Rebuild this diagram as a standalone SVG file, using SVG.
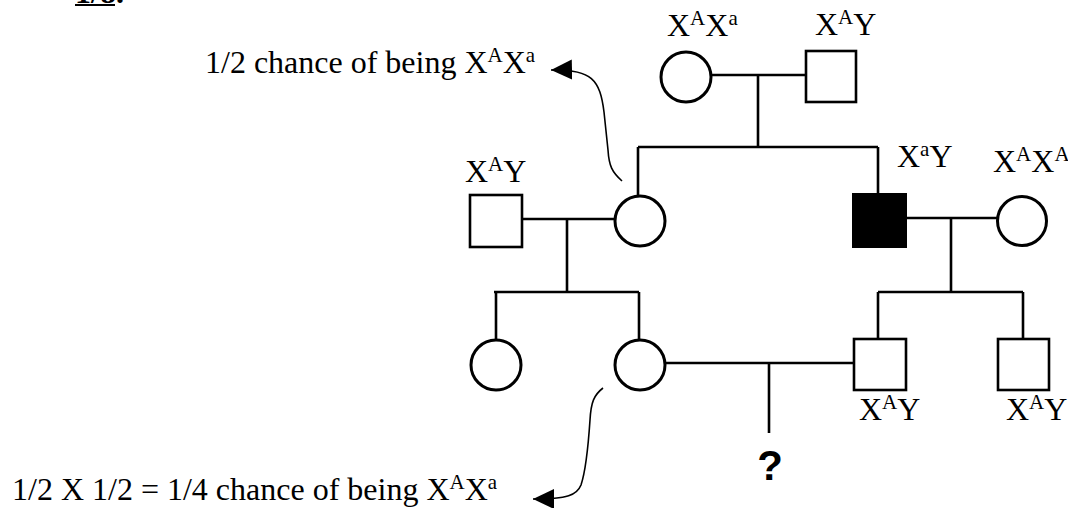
<svg xmlns="http://www.w3.org/2000/svg" width="1068" height="508" viewBox="0 0 1068 508">
<style>
.t{font-family:"Liberation Serif","Times New Roman",serif;font-size:32px;fill:#000}
.s{font-size:21px}
.ln{stroke:#000;stroke-width:2.6;fill:none}
.f{fill:#fff;stroke:#000;stroke-width:3}
.m{fill:#fff;stroke:#000;stroke-width:2.6}
.a{stroke:#000;stroke-width:1.6;fill:none}
</style>
<defs>
<marker id="ah" markerUnits="userSpaceOnUse" markerWidth="22" markerHeight="20" viewBox="0 0 22 20" refX="21" refY="10" orient="auto">
<path d="M0,0 L21,10 L0,20 Z" fill="#000"/>
</marker>
</defs>
<rect width="1068" height="508" fill="#fff"/>
<g id="heading">
<text class="t" x="75" y="3" font-weight="bold">1/8.</text>
<rect x="75" y="4" width="40" height="2" fill="#000"/>
</g>
<g id="connectors">
<path class="ln" d="M711,75 H806"/>
<path class="ln" d="M758,75 V147"/>
<path class="ln" d="M638,147 H878"/>
<path class="ln" d="M638,147 V196"/>
<path class="ln" d="M878,147 V194"/>
<path class="ln" d="M518,219 H615"/>
<path class="ln" d="M567,219 V292"/>
<path class="ln" d="M494,292 H639"/>
<path class="ln" d="M496,292 V340"/>
<path class="ln" d="M639,292 V340"/>
<path class="ln" d="M906,218 H998"/>
<path class="ln" d="M951,218 V292"/>
<path class="ln" d="M878,292 H1023"/>
<path class="ln" d="M878,292 V339"/>
<path class="ln" d="M1023,292 V339"/>
<path class="ln" d="M666,363 H854"/>
<path class="ln" d="M769,363 V433"/>
<path class="a" marker-end="url(#ah)" d="M622,181 C612,172 609,166 608,150 L604,112 C600,80 592,69 551,70"/>
<path class="a" marker-end="url(#ah)" d="M603,388 C594,395 591,402 590,420 C588,450 586,470 581,485 C577,495 568,499 533,499"/>
</g>
<g id="gm">
<circle class="f" cx="686" cy="77" r="25"/>
<text class="t" x="667" y="36">X<tspan class="s" dy="-11">A</tspan><tspan dy="11">X</tspan><tspan class="s" dy="-11">a</tspan></text>
</g>
<g id="gf">
<rect class="m" x="806" y="51" width="50" height="51"/>
<text class="t" x="815" y="35">X<tspan class="s" dy="-11">A</tspan><tspan dy="11">Y</tspan></text>
</g>
<g id="father">
<rect class="m" x="470" y="195" width="52" height="52"/>
<text class="t" x="465" y="182">X<tspan class="s" dy="-11">A</tspan><tspan dy="11">Y</tspan></text>
</g>
<g id="mother">
<circle class="f" cx="640" cy="221" r="25"/>
</g>
<g id="uncle">
<rect x="853" y="194" width="53" height="53" fill="#000" stroke="#000" stroke-width="2"/>
<text class="t" x="897" y="167">X<tspan class="s" dy="-11">a</tspan><tspan dy="11">Y</tspan></text>
</g>
<g id="aunt">
<circle class="f" cx="1022" cy="221" r="24.5"/>
<text class="t" x="993" y="172">X<tspan class="s" dy="-11">A</tspan><tspan dy="11">X</tspan><tspan class="s" dy="-11">A</tspan></text>
</g>
<g id="sister">
<circle class="f" cx="496" cy="365" r="25"/>
</g>
<g id="woman">
<circle class="f" cx="640" cy="365" r="25"/>
</g>
<g id="cousin1">
<rect class="m" x="854" y="339" width="52" height="51"/>
<text class="t" x="859" y="420">X<tspan class="s" dy="-11">A</tspan><tspan dy="11">Y</tspan></text>
</g>
<g id="cousin2">
<rect class="m" x="998" y="339" width="51" height="51"/>
<text class="t" x="1006" y="420">X<tspan class="s" dy="-11">A</tspan><tspan dy="11">Y</tspan></text>
</g>
<g id="child">
<text x="770" y="480" text-anchor="middle" font-family="Liberation Sans, Arial, sans-serif" font-weight="bold" font-size="42">?</text>
</g>
<g id="note-top">
<text class="t" x="205" y="73">1/2 chance of being X<tspan class="s" dy="-11">A</tspan><tspan dy="11">X</tspan><tspan class="s" dy="-11">a</tspan></text>
</g>
<g id="note-bottom">
<text class="t" x="12" y="500">1/2 X 1/2 = 1/4 chance of being X<tspan class="s" dy="-11">A</tspan><tspan dy="11">X</tspan><tspan class="s" dy="-11">a</tspan></text>
</g>
</svg>
